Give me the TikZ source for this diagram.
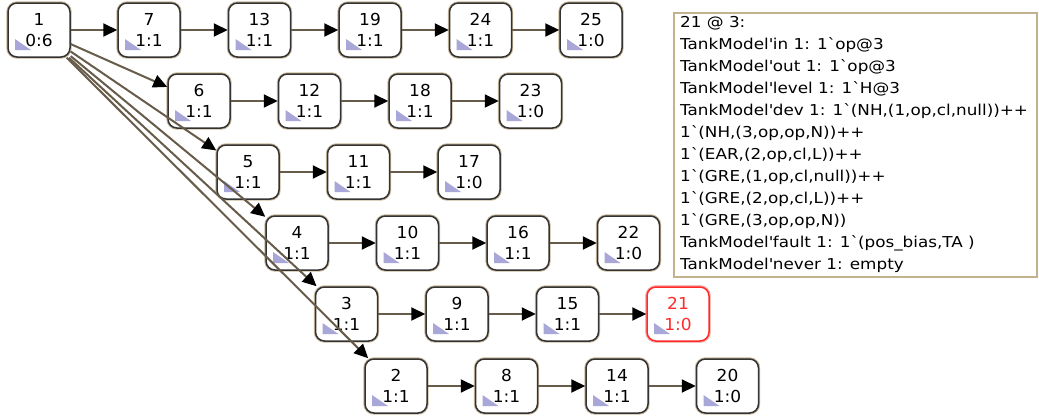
\documentclass[tikz,border=0pt]{standalone}
\usepackage{fontspec}
\setmainfont{DejaVu Sans}
\newfontfamily\verd{DejaVu Sans}[FakeStretch=1.12]
\newfontfamily\verdn{DejaVu Sans}[FakeStretch=1.03]
\usetikzlibrary{arrows.meta}
\definecolor{edgec}{HTML}{675B49}
\definecolor{halo}{HTML}{C8B89A}
\definecolor{lav}{HTML}{A9A6D8}
\definecolor{boxc}{HTML}{C4B28C}
\definecolor{redc}{HTML}{FF2A2A}
\definecolor{redhalo}{HTML}{FFB0B0}
\tikzset{
  st/.style={rectangle, rounded corners=9pt, minimum width=62pt, minimum height=54pt,
    inner sep=0pt, align=center, fill=white, draw=black!80, line width=1.5pt,
    preaction={draw=halo, line width=3.4pt},
    font=\verdn\fontsize{16.5}{21}\selectfont,
    path picture={\fill[lav, sharp corners] ([xshift=7pt,yshift=7pt]path picture bounding box.south west)
      -- ++(16pt,0pt) -- ++(-16pt,11pt) -- cycle;}},
  redst/.style={st, draw=redc, text=redc, preaction={draw=redhalo, line width=3.4pt}},
  edge/.style={draw=edgec, line width=2pt, -{Triangle[length=14pt,width=13pt,color=black]}},
}
\begin{document}
\begin{tikzpicture}[x=1pt,y=-1pt]
\useasboundingbox (0,0) rectangle (1039,416);
% row 1
\node[st] (n1) at (39,30) {1\\0:6};
\node[st] (n7) at (149,30) {7\\1:1};
\node[st] (n13) at (259.5,30) {13\\1:1};
\node[st] (n19) at (370,30) {19\\1:1};
\node[st] (n24) at (480.5,30) {24\\1:1};
\node[st] (n25) at (591,30) {25\\1:0};
% row 2
\node[st] (n6) at (199,101) {6\\1:1};
\node[st] (n12) at (309.5,101) {12\\1:1};
\node[st] (n18) at (420,101) {18\\1:1};
\node[st] (n23) at (530.5,101) {23\\1:0};
% row 3
\node[st] (n5) at (248,172) {5\\1:1};
\node[st] (n11) at (358.5,172) {11\\1:1};
\node[st] (n17) at (469,172) {17\\1:0};
% row 4
\node[st] (n4) at (297,243) {4\\1:1};
\node[st] (n10) at (407.5,243) {10\\1:1};
\node[st] (n16) at (518,243) {16\\1:1};
\node[st] (n22) at (628.5,243) {22\\1:0};
% row 5
\node[st] (n3) at (346.5,314) {3\\1:1};
\node[st] (n9) at (457,314) {9\\1:1};
\node[st] (n15) at (567.5,314) {15\\1:1};
\node[redst] (n21) at (678,314) {21\\1:0};
% row 6
\node[st] (n2) at (396,386) {2\\1:1};
\node[st] (n8) at (506.5,386) {8\\1:1};
\node[st] (n14) at (617,386) {14\\1:1};
\node[st] (n20) at (727.5,386) {20\\1:0};
% edges
\draw[edge] (n1) -- (n7);
\draw[edge] (n7) -- (n13);
\draw[edge] (n13) -- (n19);
\draw[edge] (n19) -- (n24);
\draw[edge] (n24) -- (n25);
\draw[edge] (n6) -- (n12);
\draw[edge] (n12) -- (n18);
\draw[edge] (n18) -- (n23);
\draw[edge] (n5) -- (n11);
\draw[edge] (n11) -- (n17);
\draw[edge] (n4) -- (n10);
\draw[edge] (n10) -- (n16);
\draw[edge] (n16) -- (n22);
\draw[edge] (n3) -- (n9);
\draw[edge] (n9) -- (n15);
\draw[edge] (n15) -- (n21);
\draw[edge] (n2) -- (n8);
\draw[edge] (n8) -- (n14);
\draw[edge] (n14) -- (n20);
\draw[edge] (n1) -- (n6);
\draw[edge] (n1) -- (n5);
\draw[edge] (n1) -- (n4);
\draw[edge] (n1) -- (n3);
\draw[edge] (n1) -- (n2);
% info box
\node[draw=boxc, line width=2pt, fill=white, minimum width=363pt, minimum height=264pt,
  inner sep=0pt, anchor=north west] (info) at (673,12) {};
\node[anchor=north west, align=left, inner sep=0pt, font=\verd\fontsize{15}{22}\selectfont] (infotext) at (680,16) {%
21 @ 3:\\
TankModel\textquotesingle in 1: 1\textasciigrave op@3\\
TankModel\textquotesingle out 1: 1\textasciigrave op@3\\
TankModel\textquotesingle level 1: 1\textasciigrave H@3\\
TankModel\textquotesingle dev 1: 1\textasciigrave(NH,(1,op,cl,null))++\\
1\textasciigrave(NH,(3,op,op,N))++\\
1\textasciigrave(EAR,(2,op,cl,L))++\\
1\textasciigrave(GRE,(1,op,cl,null))++\\
1\textasciigrave(GRE,(2,op,cl,L))++\\
1\textasciigrave(GRE,(3,op,op,N))\\
TankModel\textquotesingle fault 1: 1\textasciigrave(pos\_bias,TA )\\
TankModel\textquotesingle never 1: empty};
\end{tikzpicture}
\end{document}
